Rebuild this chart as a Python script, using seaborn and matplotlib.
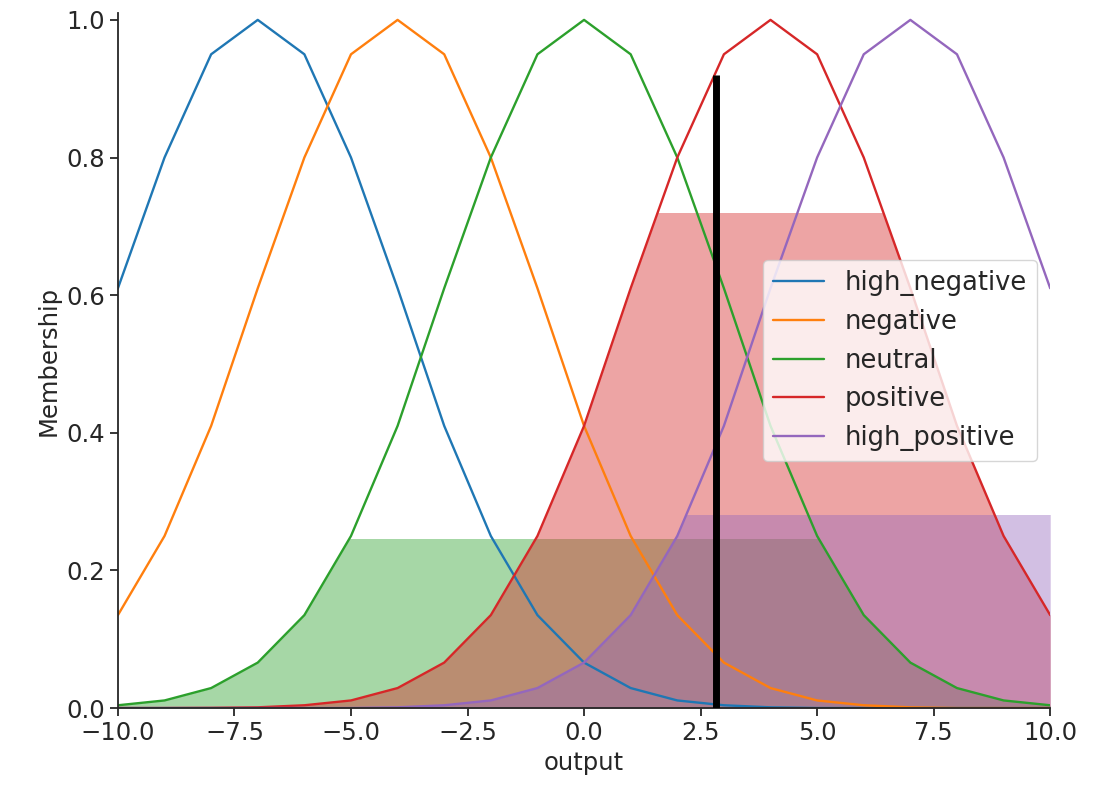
import numpy as np
import pandas as pd
import matplotlib
matplotlib.use("Agg")
import matplotlib.pyplot as plt
from matplotlib.patches import Rectangle
import seaborn as sns

# ---------------- data ----------------
x_values = list(range(-10, 11))

high_negative = [0.61, 0.80, 0.95, 1.00, 0.95, 0.80, 0.61, 0.41, 0.25, 0.135, 0.066,
                 0.029, 0.011, 0.004, 0.001, 0.0, 0.0, 0.0, 0.0, 0.0, 0.0]
negative = [0.135, 0.25, 0.41, 0.61, 0.80, 0.95, 1.00, 0.95, 0.80, 0.61, 0.41,
            0.25, 0.135, 0.066, 0.029, 0.011, 0.004, 0.001, 0.0, 0.0, 0.0]
neutral = [0.004, 0.011, 0.029, 0.066, 0.135, 0.25, 0.41, 0.61, 0.80, 0.95, 1.00,
           0.95, 0.80, 0.61, 0.41, 0.25, 0.135, 0.066, 0.029, 0.011, 0.004]
positive = [0.0, 0.0, 0.0003, 0.001, 0.004, 0.011, 0.029, 0.066, 0.135, 0.25, 0.41,
            0.61, 0.80, 0.95, 1.00, 0.95, 0.80, 0.61, 0.41, 0.25, 0.135]
high_positive = [0.0, 0.0, 0.0, 0.0, 0.0, 0.0, 0.001, 0.004, 0.011, 0.029, 0.066,
                 0.135, 0.25, 0.41, 0.61, 0.80, 0.95, 1.00, 0.95, 0.80, 0.61]

term_names = ["high_negative", "negative", "neutral", "positive", "high_positive"]
term_values = [high_negative, negative, neutral, positive, high_positive]
# rule activation level of each term (clips the filled area)
activation = [0.0, 0.0, 0.245, 0.72, 0.28]

crisp_output = 2.83
crisp_membership = 0.92

# ---------------- plot ----------------
sns.set_style("ticks")
plt.rcParams["font.family"] = ["DejaVu Sans"]
plt.rcParams["font.size"] = 17.5

df = pd.DataFrame({
    "output": x_values * len(term_names),
    "Membership": sum(term_values, []),
    "term": [name for name in term_names for _ in x_values],
})

fig = plt.figure(figsize=(11.02, 7.88), dpi=100)
ax = fig.add_axes([0.107, 0.1015, 0.846, 0.882])

colors = sns.color_palette("tab10", len(term_names))

sns.lineplot(data=df, x="output", y="Membership", hue="term", hue_order=term_names,
             palette=colors, linewidth=1.7, ax=ax)

# area under each curve, cut off at the activation level
for name, vals, level, c in zip(term_names, term_values, activation, colors):
    if level <= 0:
        continue
    poly = ax.fill_between(x_values, 0, vals, facecolor=c, alpha=0.42, linewidth=0)
    clip = Rectangle((x_values[0], 0), x_values[-1] - x_values[0], level,
                     transform=ax.transData, visible=False)
    ax.add_patch(clip)
    poly.set_clip_path(clip)

ax.vlines(crisp_output, 0, crisp_membership, color="black", linewidth=5, zorder=5)

ax.set_xlim(-10, 10)
ax.set_ylim(0, 1.01)
ax.set_yticks([0.0, 0.2, 0.4, 0.6, 0.8, 1.0])
ax.set_xlabel("output", fontsize=17.5)
ax.set_ylabel("Membership", fontsize=17.5)
ax.tick_params(labelsize=17.5, length=6, width=1.3)
for s in ["left", "bottom"]:
    ax.spines[s].set_linewidth(1.3)
sns.despine(ax=ax)

sns.move_legend(ax, "center right", title=None, fontsize=18.5)

fig.savefig("out.png", dpi=100)
plt.close(fig)
